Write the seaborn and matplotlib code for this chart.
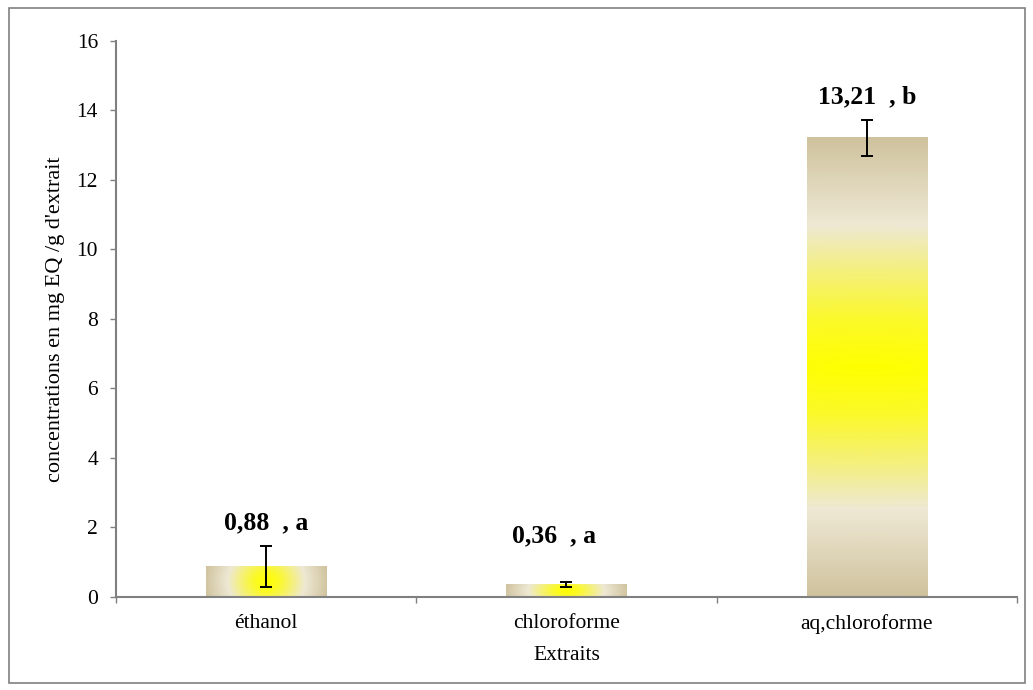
import numpy as np
import pandas as pd
import seaborn as sns
import matplotlib.pyplot as plt
from matplotlib.colors import LinearSegmentedColormap
from matplotlib.patches import Rectangle

# data
extraits = ["éthanol", "chloroforme", "aq,chloroforme"]
concentrations = [0.88, 0.36, 13.21]
ecarts = [0.58, 0.08, 0.53]
groupes = ["a", "a", "b"]
y_ticks = [0, 2, 4, 6, 8, 10, 12, 14, 16]

df = pd.DataFrame({"extrait": extraits, "conc": concentrations})

sns.set_style("white")
plt.rcParams["font.family"] = ["Liberation Serif", "DejaVu Serif"]
plt.rcParams["text.color"] = "black"
plt.rcParams["axes.labelcolor"] = "black"
plt.rcParams["xtick.color"] = "black"
plt.rcParams["ytick.color"] = "black"

fig = plt.figure(figsize=(10.33, 6.90), dpi=100)
ax = fig.add_axes([0.1123, 0.1348, 0.8722, 0.8058])

sns.barplot(data=df, x="extrait", y="conc", errorbar=None, width=0.4,
            color="#D0C39E", ax=ax)

# radial fill: yellow centre -> cream ring -> tan edge
cmap = LinearSegmentedColormap.from_list(
    "grad", [(0.0, "#FFFF00"), (0.2, "#FBF928"), (0.42, "#F4F07E"),
             (0.62, "#EEE8D4"), (1.0, "#CFC29D")])

fig.canvas.draw()
bars = list(ax.patches)
for p in bars:
    bb = p.get_window_extent()
    w, h = bb.width, bb.height
    nx, ny = max(int(w), 2), max(int(h), 2)
    xs = np.linspace(-w / 2, w / 2, nx)
    ys = np.linspace(-h / 2, h / 2, ny)
    X, Y = np.meshgrid(xs, ys)
    r = np.sqrt(X ** 2 + Y ** 2) / np.hypot(w / 2, h / 2)
    x0, y0 = p.get_x(), p.get_y()
    ax.imshow(r, cmap=cmap, vmin=0, vmax=1, aspect="auto", origin="lower",
              extent=[x0, x0 + p.get_width(), y0, y0 + p.get_height()],
              interpolation="bilinear", zorder=1)
    p.set_facecolor("none")
    p.set_edgecolor("none")

centres = [p.get_x() + p.get_width() / 2 for p in bars]
ax.errorbar(centres, concentrations, yerr=ecarts, fmt="none", ecolor="black",
            elinewidth=1.4, capsize=4, capthick=1.4, zorder=3)

# labels above bars
label_offsets = [(0, 17), (-9, 33), (0, 16)]
for xc, v, e, g, off in zip(centres, concentrations, ecarts, groupes, label_offsets):
    txt = f"{v:.2f}".replace(".", ",") + "  , " + g
    ax.annotate(txt, (xc, v + e), xytext=off, textcoords="offset points",
                ha="center", va="center", fontsize=18.5, fontweight="bold")

ax.set_xlim(-0.5, 2.5)
ax.set_ylim(0, 16)
ax.set_yticks(y_ticks)
ax.set_yticklabels([str(t) for t in y_ticks], fontsize=15.5)
ax.set_xticks([-0.5, 0.5, 1.5, 2.5])
ax.set_xticklabels([])
ax.set_xticks([0, 1, 2], minor=True)
ax.set_xticklabels(extraits, minor=True, fontsize=15.5)
ax.tick_params(axis="x", which="major", direction="out", length=4, width=1,
               color="#808080", bottom=True)
ax.tick_params(axis="x", which="minor", length=0, pad=12)
ax.tick_params(axis="y", direction="out", length=4, width=1, color="#808080",
               left=True, pad=9)

ax.set_xlabel("Extraits", fontsize=15.5, labelpad=9)
ax.set_ylabel("concentrations en mg EQ /g d'extrait", fontsize=16, labelpad=8)

for side in ["top", "right"]:
    ax.spines[side].set_visible(False)
for side in ["left", "bottom"]:
    ax.spines[side].set_color("#808080")
    ax.spines[side].set_linewidth(1.5)

fig.patches.append(Rectangle((0.009, 0.01), 0.983, 0.978, transform=fig.transFigure,
                             fill=False, edgecolor="#808080", linewidth=1.2))

fig.savefig("out.png", dpi=100)
